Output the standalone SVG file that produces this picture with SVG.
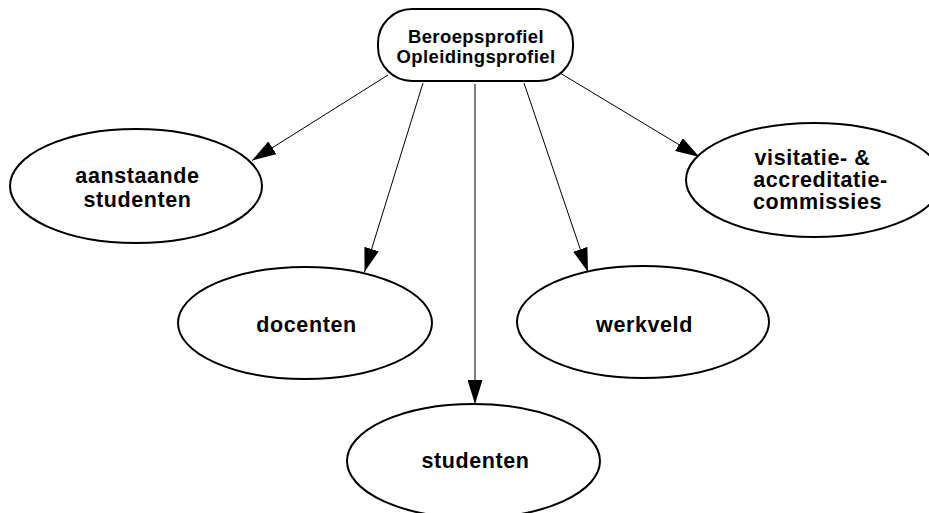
<svg xmlns="http://www.w3.org/2000/svg" width="929" height="513" viewBox="0 0 929 513">
<style>
.shape{fill:#fff;stroke:#000;stroke-width:2}
.t{font-family:"Liberation Sans",Arial,sans-serif;font-weight:bold;fill:#000;text-anchor:middle}
.top{font-size:18.5px;letter-spacing:0.4px}
.lbl{font-size:21.5px;letter-spacing:0.6px}
.edge{stroke:#000;stroke-width:1;fill:none;marker-end:url(#ah)}
</style>
<defs>
<marker id="ah" markerUnits="userSpaceOnUse" markerWidth="24" markerHeight="15" refX="24" refY="7.5" orient="auto" viewBox="0 0 24 15">
<path d="M0,0 L24,7.5 L0,15 z" fill="#000"/>
</marker>
</defs>
<rect width="929" height="513" fill="#fff"/>
<g id="connectors">
<line class="edge" x1="388" y1="75" x2="252" y2="160.5"/>
<line class="edge" x1="423" y1="83" x2="364.5" y2="272"/>
<line class="edge" x1="475" y1="84" x2="475" y2="404"/>
<line class="edge" x1="524" y1="83" x2="588" y2="272"/>
<line class="edge" x1="560" y1="73" x2="699.5" y2="157"/>
</g>
<g id="beroepsprofiel">
<rect class="shape" x="378" y="9" width="195" height="72" rx="34" ry="34"/>
<text class="t top" x="476" y="43">Beroepsprofiel</text>
<text class="t top" x="476" y="63">Opleidingsprofiel</text>
</g>
<g id="aanstaande-studenten">
<ellipse class="shape" cx="136" cy="186" rx="126" ry="57"/>
<text class="t lbl" x="137.5" y="183">aanstaande</text>
<text class="t lbl" x="137.5" y="207">studenten</text>
</g>
<g id="visitatie">
<ellipse class="shape" cx="814" cy="180" rx="128" ry="57"/>
<text class="t lbl" x="812.5" y="165">visitatie- &amp;</text>
<text class="t lbl" x="820.5" y="187">accreditatie-</text>
<text class="t lbl" x="817.5" y="209">commissies</text>
</g>
<g id="docenten">
<ellipse class="shape" cx="305" cy="323" rx="127" ry="56"/>
<text class="t lbl" x="306.5" y="332">docenten</text>
</g>
<g id="werkveld">
<ellipse class="shape" cx="643" cy="322" rx="126" ry="56"/>
<text class="t lbl" x="644.5" y="332">werkveld</text>
</g>
<g id="studenten">
<ellipse class="shape" cx="473.5" cy="461" rx="126.5" ry="57"/>
<text class="t lbl" x="475.5" y="468">studenten</text>
</g>
</svg>
